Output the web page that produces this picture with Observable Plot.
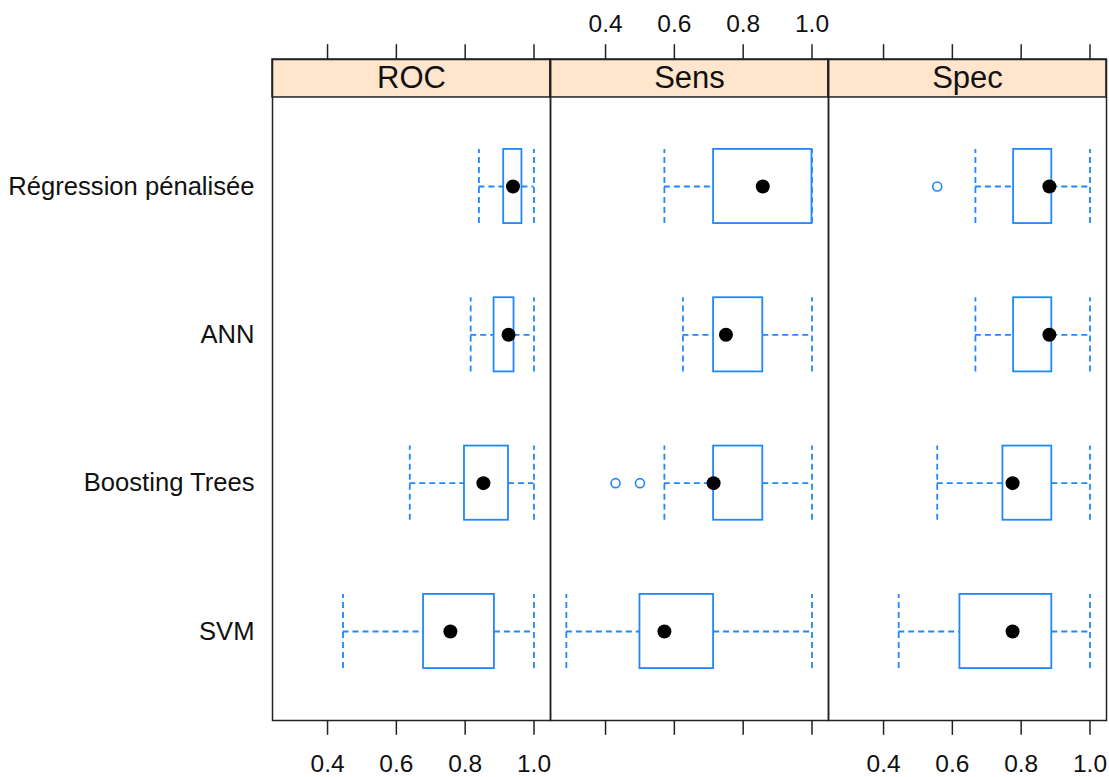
<!DOCTYPE html>
<html>
<head>
<meta charset="utf-8">
<script src="https://cdn.jsdelivr.net/npm/d3@7"></script>
<script src="https://cdn.jsdelivr.net/npm/@observablehq/plot@0.6"></script>
<style>
  html, body { margin: 0; padding: 0; background: white; }
</style>
</head>
<body>
<div id="chart"></div>
<script>
// ---- data ----
const metrics = ["ROC", "Sens", "Spec"];
const models = ["Régression pénalisée", "ANN", "Boosting Trees", "SVM"]; // top to bottom

// ROC
const rocMin = [0.840, 0.816, 0.639, 0.445];
const rocQ1  = [0.912, 0.884, 0.798, 0.679];
const rocMed = [0.939, 0.926, 0.853, 0.757];
const rocQ3  = [0.965, 0.942, 0.926, 0.885];
const rocMax = [1.000, 1.000, 1.000, 1.000];

// Sens
const sensMin = [0.571, 0.625, 0.571, 0.286];
const sensQ1  = [0.714, 0.714, 0.714, 0.500];
const sensMed = [0.857, 0.750, 0.714, 0.571];
const sensQ3  = [1.000, 0.857, 0.857, 0.714];
const sensMax = [1.000, 1.000, 1.000, 1.000];

// Spec
const specMin = [0.667, 0.667, 0.556, 0.444];
const specQ1  = [0.778, 0.778, 0.747, 0.622];
const specMed = [0.882, 0.882, 0.775, 0.775];
const specQ3  = [0.889, 0.889, 0.889, 0.889];
const specMax = [1.000, 1.000, 1.000, 1.000];

// outliers
const outMetric = ["Sens", "Sens", "Spec"];
const outModel  = ["Boosting Trees", "Boosting Trees", "Régression pénalisée"];
const outValue  = [0.429, 0.500, 0.556];

// axis ticks
const tickValues = [0.4, 0.6, 0.8, 1.0];
const tickLabels = ["0.4", "0.6", "0.8", "1.0"];
const bottomLabelled = ["ROC", "Spec"];
const topLabelled = ["Sens"];

// ---- build tables ----
const statsByMetric = {
  ROC:  [rocMin, rocQ1, rocMed, rocQ3, rocMax],
  Sens: [sensMin, sensQ1, sensMed, sensQ3, sensMax],
  Spec: [specMin, specQ1, specMed, specQ3, specMax]
};
const level = m => models.length - models.indexOf(m);
const stats = [];
for (const metric of metrics) {
  const [mn, q1, md, q3, mx] = statsByMetric[metric];
  models.forEach((model, i) => {
    stats.push({metric, model, lv: level(model), min: mn[i], q1: q1[i], med: md[i], q3: q3[i], max: mx[i]});
  });
}
const outliers = outValue.map((v, i) => ({metric: outMetric[i], lv: level(outModel[i]), v}));
const ticks = [];
for (const metric of metrics) tickValues.forEach((v, i) => ticks.push({metric, v, label: tickLabels[i]}));

// ---- layout constants ----
const HALF = 0.25;          // half box height (box.ratio = 1)
const yLo = 0.4, yHi = models.length + 0.6;
const stripTop = yHi + 0.256;
const tickLen = 0.1;
const blue = "#1e88ff";
const dash = "6,4";
const xDomain = [0.24, 1.048];

const chart = Plot.plot({
  width: 1109,
  height: 777,
  marginLeft: 271,
  marginRight: 3,
  marginTop: 59,
  marginBottom: 57,
  x: {domain: xDomain, axis: null},
  y: {domain: [yLo, stripTop], axis: null},
  fx: {domain: metrics, padding: 0, axis: null},
  style: {fontFamily: "'Liberation Sans', Arial, sans-serif", fontSize: "25px", color: "#000", background: "white", overflow: "visible"},
  marks: [
    // strips
    Plot.rect(metrics, {fx: d => d, x1: xDomain[0], x2: xDomain[1], y1: yHi, y2: stripTop, fill: "#ffe5cc", stroke: "#222", strokeWidth: 1.5}),
    Plot.text(metrics, {fx: d => d, x: (xDomain[0] + xDomain[1]) / 2, y: (yHi + stripTop) / 2, text: d => d, fontSize: 31, fill: "#111"}),
    // panel frame
    Plot.frame({stroke: "#222", strokeWidth: 1.5}),
    // whiskers
    Plot.ruleY(stats, {fx: "metric", y: "lv", x1: "min", x2: "q1", stroke: blue, strokeWidth: 1.8, strokeDasharray: dash}),
    Plot.ruleY(stats, {fx: "metric", y: "lv", x1: "q3", x2: "max", stroke: blue, strokeWidth: 1.8, strokeDasharray: dash}),
    Plot.ruleX(stats, {fx: "metric", x: "min", y1: d => d.lv - HALF, y2: d => d.lv + HALF, stroke: blue, strokeWidth: 1.8, strokeDasharray: dash}),
    Plot.ruleX(stats, {fx: "metric", x: "max", y1: d => d.lv - HALF, y2: d => d.lv + HALF, stroke: blue, strokeWidth: 1.8, strokeDasharray: dash}),
    // boxes
    Plot.rect(stats, {fx: "metric", x1: "q1", x2: "q3", y1: d => d.lv - HALF, y2: d => d.lv + HALF, fill: "none", stroke: blue, strokeWidth: 1.8}),
    // medians
    Plot.dot(stats, {fx: "metric", x: "med", y: "lv", r: 7, fill: "black", stroke: "none"}),
    // outliers
    Plot.dot(outliers, {fx: "metric", x: "v", y: "lv", r: 4.5, fill: "white", stroke: blue, strokeWidth: 1.6}),
    // model labels
    Plot.text(models, {fx: () => "ROC", y: d => level(d), frameAnchor: "left", textAnchor: "end", dx: -18, fontSize: 25.6, fill: "#111"}),
    // ticks (both sides)
    Plot.ruleX(ticks, {fx: "metric", x: "v", y1: yLo, y2: yLo - tickLen, stroke: "#222", strokeWidth: 1.5}),
    Plot.ruleX(ticks, {fx: "metric", x: "v", y1: stripTop, y2: stripTop + tickLen, stroke: "#222", strokeWidth: 1.5}),
    // tick labels
    Plot.text(ticks.filter(d => bottomLabelled.includes(d.metric)), {fx: "metric", x: "v", frameAnchor: "bottom", dy: 51, text: "label", fontSize: 24.5, fill: "#111"}),
    Plot.text(ticks.filter(d => topLabelled.includes(d.metric)), {fx: "metric", x: "v", frameAnchor: "top", dy: -45, text: "label", fontSize: 24.5, fill: "#111"})
  ]
});
document.getElementById("chart").appendChild(chart);
</script>
</body>
</html>
